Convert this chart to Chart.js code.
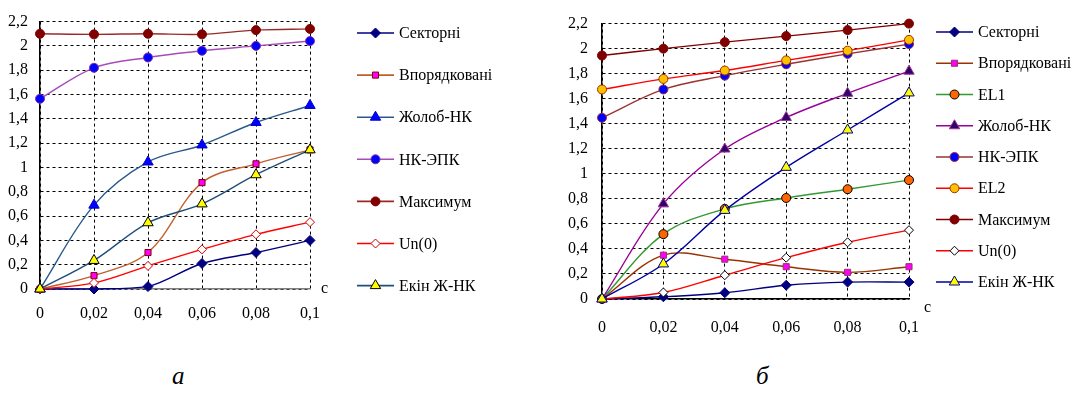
<!DOCTYPE html>
<html>
<head>
<meta charset="utf-8">
<script src="https://cdn.jsdelivr.net/npm/chart.js@4.4.1/dist/chart.umd.min.js"></script>
<style>
  html, body { margin: 0; padding: 0; background: #fff; }
  body { width: 1077px; height: 394px; position: relative; overflow: hidden; font-family: "Liberation Serif", serif; }
  #wa { position: absolute; left: 0; top: 0; width: 520px; height: 330px; }
  #wb { position: absolute; left: 540px; top: 0; width: 537px; height: 345px; }
  .cap { position: absolute; top: 362px; font-style: italic; font-size: 25px; font-family: "Liberation Serif", serif; }
  .pre { position: absolute; left: -999px; top: 0; font-family: "Liberation Serif"; font-size: 16px; }
</style>
</head>
<body>
<div class="pre">Секторні 0,02</div>
<div id="wa"><canvas id="ca"></canvas></div>
<div id="wb"><canvas id="cb"></canvas></div>
<div class="cap" style="left:172px;">а</div>
<div class="cap" style="left:756px;">б</div>
<script>
// ---------- data ----------
const categories = ['0', '0,02', '0,04', '0,06', '0,08', '0,1'];
const unitLabel = 'с';

// chart а
const aSectorni = [0, 0, 0.02, 0.21, 0.30, 0.40];
const aVporiad  = [0, 0.11, 0.30, 0.875, 1.03, 1.145];
const aZholob   = [0, 0.69, 1.045, 1.185, 1.37, 1.51];
const aNkEpk    = [1.565, 1.82, 1.905, 1.96, 2.0, 2.04];
const aMax      = [2.10, 2.095, 2.10, 2.095, 2.13, 2.14];
const aUn0      = [0, 0.05, 0.19, 0.326, 0.45, 0.55];
const aEkin     = [0, 0.235, 0.545, 0.70, 0.94, 1.145];

// chart б
const bSectorni = [0, 0.018, 0.05, 0.11, 0.135, 0.135];
const bVporiad  = [0, 0.35, 0.318, 0.258, 0.213, 0.258];
const bEL1      = [0, 0.518, 0.72, 0.807, 0.877, 0.95];
const bZholob   = [0, 0.76, 1.198, 1.45, 1.643, 1.82];
const bNkEpk    = [1.448, 1.674, 1.784, 1.875, 1.958, 2.036];
const bEL2      = [1.674, 1.758, 1.825, 1.906, 1.984, 2.07];
const bMax      = [1.945, 2.0, 2.052, 2.10, 2.148, 2.2];
const bUn0      = [0, 0.052, 0.19, 0.33, 0.453, 0.55];
const bEkin     = [0, 0.28, 0.708, 1.052, 1.35, 1.646];

const yMin = 0, yMax = 2.2, yStep = 0.2;

// ---------- helpers ----------
const FONT = "'Liberation Serif', serif";
Chart.defaults.font.family = FONT;
function fmt(v) { return String(Math.round(v * 10) / 10).replace('.', ','); }

function ds(label, data, line, style, radius, fill, border, i) {
  return {
    label, data, borderColor: line, borderWidth: 1.4, tension: 0.35,
    pointStyle: style, pointRadius: radius, pointHoverRadius: radius,
    pointBackgroundColor: fill, pointBorderColor: border, pointBorderWidth: 1,
    fill: false, clip: false, order: -i
  };
}

const legendPlugin = {
  id: 'sideLegend',
  afterDraw(chart) {
    const o = chart.options.plugins.sideLegend;
    const ctx = chart.ctx;
    ctx.save();
    chart.data.datasets.forEach((d, i) => {
      const y = o.y0 + o.dy * i;
      ctx.strokeStyle = d.borderColor;
      ctx.lineWidth = 1.6;
      ctx.beginPath(); ctx.moveTo(o.x1, y); ctx.lineTo(o.x2, y); ctx.stroke();
      ctx.fillStyle = d.pointBackgroundColor;
      ctx.strokeStyle = d.pointBorderColor;
      ctx.lineWidth = 1;
      Chart.helpers.drawPoint(ctx, { pointStyle: d.pointStyle, radius: d.pointRadius, rotation: 0, borderWidth: 1 }, (o.x1 + o.x2) / 2, y);
      ctx.fillStyle = '#000';
      ctx.font = o.font;
      ctx.textBaseline = 'middle';
      ctx.textAlign = 'left';
      ctx.fillText(d.label, o.tx, y + 1);
    });
    // unit label at the end of the x axis
    const xs = chart.scales.x, ys = chart.scales.y;
    ctx.font = o.font;
    ctx.textBaseline = 'middle';
    ctx.fillText(unitLabel, xs.right + o.ux, ys.getPixelForValue(0) + o.uy);
    ctx.restore();
  }
};

function makeChart(id, datasets, cfg) {
  return new Chart(document.getElementById(id), {
    type: 'line',
    data: { labels: categories, datasets },
    plugins: [legendPlugin],
    options: {
      responsive: true, maintainAspectRatio: false, animation: false,
      layout: { padding: { top: cfg.top, right: cfg.right, left: 0, bottom: 0 } },
      plugins: { legend: { display: false }, tooltip: { enabled: false }, sideLegend: cfg.legend },
      scales: {
        x: {
          type: 'category', offset: false,
          grid: { color: '#000', lineWidth: 1, drawTicks: false },
          border: { color: cfg.xBorder, width: 1.5, dash: [3, 3] },
          ticks: { color: '#000', padding: cfg.xPad, font: { family: FONT, size: 16 }, maxRotation: 0, autoSkip: false },
          afterFit(s) { s.height = cfg.xH; }
        },
        y: {
          min: yMin, max: yMax,
          grid: { color: '#000', lineWidth: 1, drawTicks: false },
          border: { color: '#000', width: 1.5, dash: [3, 3] },
          ticks: { stepSize: yStep, color: '#000', padding: cfg.yPad, font: { family: FONT, size: 16 }, callback: v => fmt(v) },
          afterFit(s) { s.width = cfg.yW; }
        }
      }
    }
  });
}

function build() {
  makeChart('ca', [
    ds('Секторні', aSectorni, '#000080', 'rectRot', 5, '#000080', '#000080', 0),
    ds('Впорядковані', aVporiad, '#C0602F', 'rect', 4.3, '#FF00FF', '#800000', 1),
    ds('Жолоб-НК', aZholob, '#2A5A8A', 'triangle', 6, '#0000FF', '#0000CC', 2),
    ds('НК-ЭПК', aNkEpk, '#A64CB8', 'circle', 4.5, '#0000FF', '#8030A0', 3),
    ds('Максимум', aMax, '#9A2A2A', 'circle', 4.5, '#800000', '#800000', 4),
    ds('Un(0)', aUn0, '#FF0000', 'rectRot', 4.5, '#FFFFFF', '#CC0000', 5),
    ds('Екін Ж-НК', aEkin, '#1F4E79', 'triangle', 6, '#FFFF00', '#000000', 6)
  ], {
    top: 16, right: 210, yW: 40, xH: 41, xPad: 15, yPad: 12, xBorder: '#808080',
    legend: { x1: 357, x2: 394, tx: 399, y0: 33, dy: 42.1, font: '16px ' + FONT, ux: 11, uy: 0 }
  });

  makeChart('cb', [
    ds('Секторні', bSectorni, '#000080', 'rectRot', 5, '#000080', '#000080', 0),
    ds('Впорядковані', bVporiad, '#993300', 'rect', 4.3, '#FF00FF', '#993366', 1),
    ds('EL1', bEL1, '#339933', 'circle', 4.5, '#FF6600', '#000000', 2),
    ds('Жолоб-НК', bZholob, '#990099', 'triangle', 6, '#330066', '#993399', 3),
    ds('НК-ЭПК', bNkEpk, '#993333', 'circle', 4.5, '#0000FF', '#993333', 4),
    ds('EL2', bEL2, '#FF0000', 'circle', 4.5, '#FFC000', '#993300', 5),
    ds('Максимум', bMax, '#800000', 'circle', 4.5, '#800000', '#800000', 6),
    ds('Un(0)', bUn0, '#FF0000', 'rectRot', 4.5, '#FFFFFF', '#000000', 7),
    ds('Екін Ж-НК', bEkin, '#0000A0', 'triangle', 6, '#FFFF00', '#000080', 8)
  ], {
    top: 17, right: 168, yW: 62, xH: 46, xPad: 19, yPad: 14, xBorder: '#000000',
    legend: { x1: 396, x2: 433, tx: 438, y0: 32, dy: 31.25, font: '16px ' + FONT, ux: 15, uy: 9 }
  });
}

let built = false;
function go() { if (!built) { built = true; build(); } }
if (document.fonts && document.fonts.load) {
  Promise.all([document.fonts.load("16px 'Liberation Serif'", 'Секторні 0,02'), document.fonts.ready])
    .then(go, go);
  setTimeout(go, 1500);
} else { go(); }
</script>
</body>
</html>
